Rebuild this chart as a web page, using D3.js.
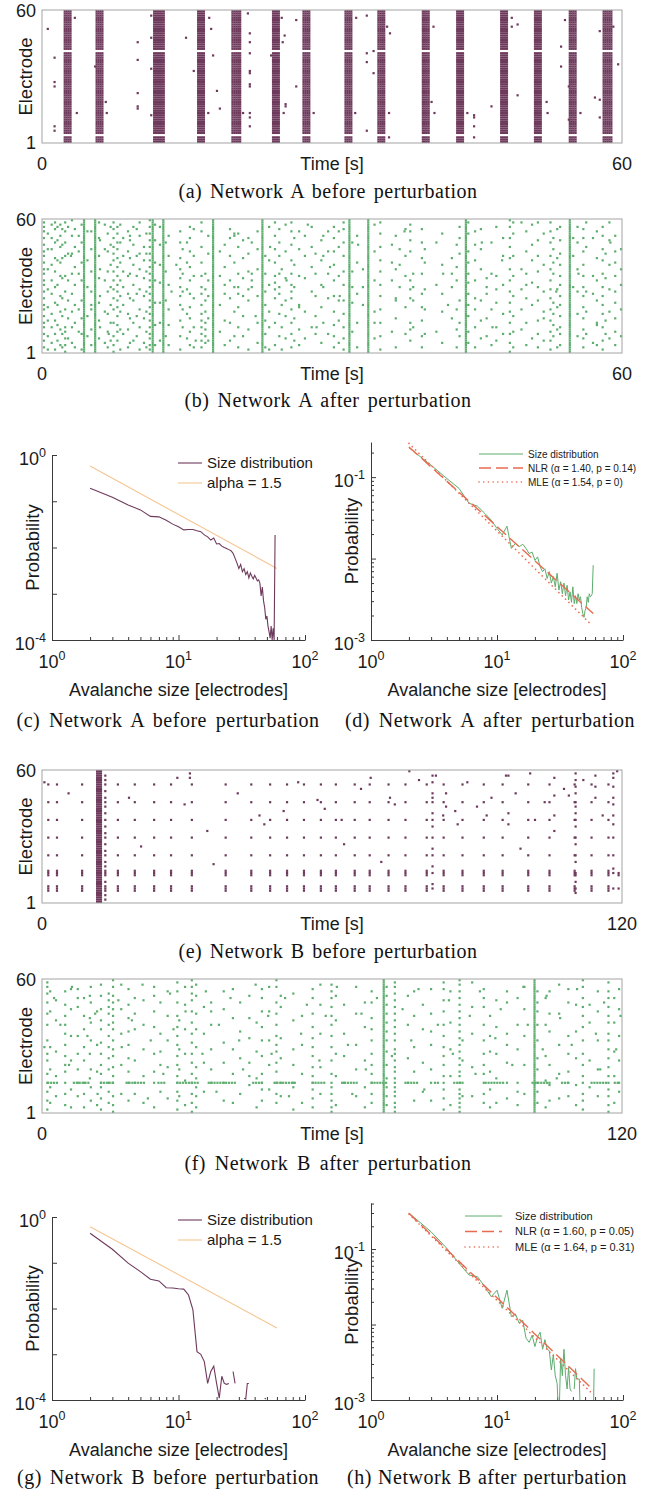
<!DOCTYPE html>
<html lang="en">
<head>
<meta charset="UTF-8">
<script src="https://cdnjs.cloudflare.com/ajax/libs/d3/7.8.5/d3.min.js"></script>
<title>Neuronal avalanches</title>
<style>
  body { margin: 0; background: #fff; }
  svg { display: block; }
  .lbl { font-family: "Liberation Sans", Arial, Helvetica, sans-serif; fill: #1a1a1a; }
  .cap { font-family: "Liberation Serif", "Times New Roman", serif; font-size: 20px; letter-spacing: 0.5px; fill: #111; }
</style>
</head>
<body>
<script>
/*---------------- data ----------------*/
// raster spec strings: electrode lists, "a-b" = every electrode from a to b

// (a) Network A before perturbation: population bursts [centre s, duration s]
const burstsA = [[2.7,0.7],[6.0,0.7],[12.1,1.0],[16.5,0.7],[20.1,0.8],[24.2,0.6],[27.4,0.7],[31.7,0.6],
  [35.1,0.6],[39.7,0.6],[43.3,0.7],[47.8,0.6],[51.3,0.6],[54.9,0.6],[58.5,0.8]];
const silentA = [4, 42];
const spikesA = [[0.6,52],[1.3,39],[1.3,28],[1.3,26],[1.3,8],[1.3,6],[3.4,57],[3.6,14],[5.5,35],[6.6,19],[6.7,14],
  [9.9,46],[9.9,38],[9.9,23],[9.9,17],[9.9,16],[11.3,58],[11.3,48],[11.3,34],[11.3,13],[14.9,48],[15.7,33],
  [17.3,57],[17.5,52],[17.7,40],[18.1,24],[17.2,14],[18.4,16],[21.3,59],[21.5,50],[21.5,46],[21.5,41],[21.5,33],
  [21.5,32],[21.5,27],[21.5,26],[21.5,14],[21.5,12],[21.5,8],[20.8,14],[23.7,40],[24.8,57],[25.1,49],[24.9,46],
  [25.2,18],[25.2,17],[25.0,14],[26.3,56],[26.3,26],[28.1,14],[32.5,57],[33.6,58],[33.6,41],[34.3,42],[33.6,37],
  [34.3,32],[33.6,6],[32.4,14],[35.7,53],[36.0,50],[35.9,14],[35.9,3],[40.5,53],[40.3,19],[40.6,14],[44.0,14],
  [44.7,13],[44.7,12],[44.7,8],[44.7,3],[46.5,17],[48.6,57],[48.6,53],[49.2,54],[49.2,22],[52.2,19],[52.3,14],
  [53.7,44],[53.7,35],[54.1,56],[54.5,26],[54.5,11],[55.7,14],[57.7,51],[57.2,21],[57.7,20],[57.7,12],[59.1,53],[59.6,36]];

// (b) Network A after perturbation: spike columns [time s, electrodes]
const columnsB = [
  [0.2,"3 6 9 12 14 17 20 22 25 28 31 33 36 38 41 44 46 49 52 55 57 59"],[1.0,"5 12 18 27 33 40 47 52 58"],
  [1.35,"2 9 15 23 30 37 43 50 56 59"],[1.9,"4 11 19 26 35 41 48 53 58"],[2.4,"1 4 7 10 12 20 28 35 44 50 55 59"],
  [2.7,"7 16 24 33 45 57"],[3.4,"3 14 22 31 39 48 56"],[3.8,"10 20 36 46 53"],[4.35,"1-60"],[4.7,"8 17 30 42 55"],
  [5.5,"1-60"],[6.0,"12 26 38 51"],[6.5,"5 19 33 47 58"],[7.4,"1 4 8 14 20 25 29 33 37 42 45 48 52 56 59"],
  [7.8,"6 10 13 17 21 24 28 31 35 39 43 47 50 54 57"],[8.4,"9 22 30 37 44 52"],[8.9,"3 11 18 27 35 46 55"],
  [9.45,"6 14 24 31 40 49 57"],[10.1,"2 12 20 29 38 45 53 59"],[10.55,"5 16 26 34 42 48"],[11.45,"1-60"],
  [11.7,"4 13 23 33 41 51 58"],[12.55,"1-60"],[12.8,"8 24 37 50"],[14.3,"2 8 15 22 26 30 34 38 43 50 55"],
  [14.55,"12 20 28 36 47"],[15.3,"4 10 16 21 27 33 39 46 52 57"],[16.5,"3 6 9 12 15 18 22 27 30 35 41 48 55 59"],
  [16.9,"5 8 11 14 19 24 29 36"],[17.7,"1-60"],[18.4,"10 22 35 46"],[19.45,"6 14 25 33 44 52 56"],
  [20.3,"3 12 21 27 30 36 48 54"],[20.8,"8 17 26 34 43 51"],[21.35,"2 11 24 29 37 45 52"],[21.7,"30 33 36 50"],
  [22.8,"1-60"],[23.1,"3 9 15 22 28 36 44"],[24.1,"4 14 25 29 32 35 41 47 53 59"],[24.55,"8 18 27 30 36 44 50 56"],
  [24.8,"2 12 22 38"],[25.8,"3 9 14 20 25 28 31 36 42 49 55 59"],[26.1,"6 16 30 40 52"],[27.2,"7 19 34 44 53"],
  [27.9,"12 28 39 48 57"],[28.9,"5 21 31 42 51"],[29.6,"9 25 36 46 55"],[29.1,"14 30 44 53"],
  [30.2,"3 8 13 19 26 33 40 46 52 57"],[31.2,"2 7 12 18 24 31 37 44 50 56 59"],[31.8,"1-60"],[32.1,"10 23 30 37 50"],
  [33.2,"22 30 38"],[33.75,"1-60"],[35.0,"2 8 14 20 26 31 37 42 48 54 59"],[36.2,"10 33 41 49"],[37.0,"30 40 47"],
  [38.1,"6 11 14 25 29 33 46 51 55 58"],[38.4,"12 24 30 36"],[39.3,"3 8 15 21 27 36 43 50 56"],[39.6,"9 20 29 41 47"],
  [40.8,"10 31 50"],[42.4,"16 30 36 43"],[43.2,"8 14 24 45 52 57"],[43.85,"1-60"],
  [44.1,"5 10 17 22 27 32 36 41 46 54 59"],[44.8,"3 12 20 25 33 42 49 55"],[46.0,"8 16 27 30 34"],
  [47.0,"6 12 23 29 35 57"],[48.4,"1 5 9 14 19 23 28 33 38 43 48 52 57 60"],[48.75,"3 10 17 26 35 44 54 59"],
  [49.6,"11 20 29 38 59"],[50.7,"7 22 32 42 49 58"],[51.3,"3 9 15 24 30 37 44 51 59"],
  [52.6,"2 6 10 15 20 25 29 33 38 44 50 55 59"],[52.9,"8 13 18 23 36 41 47 52"],
  [53.6,"4 9 12 17 22 26 31 35 40 45 51 57"],[54.6,"1-60"],[54.95,"30 44 52"],
  [56.0,"3 7 11 16 21 26 30 35 40 46 52 56"],[56.3,"9 19 28 48 59"],[57.0,"5 27 35 52"],
  [58.0,"2 6 12 18 22 26 30 36 42 47 53 57"],[58.3,"9 15 34 45"],[59.3,"4 10 16 23 28 35 41 46 53"],[59.9,"8 20 31 38 47"],
  [0.6,"2 8 15 21 29 38 47 54"],[1.6,"6 13 22 31 42 51 57"],[2.1,"3 9 17 25 34 43 49 56"],[3.1,"5 12 19 27 36 45 53 60"],
  [4.1,"2 9 16 24 33 41 50 58"],[5.1,"4 11 20 28 37 47 55"],[5.9,"7 15 23 34 44 52 59"],[6.8,"3 10 18 28 37 46 54"],
  [7.1,"6 14 22 30 40 49 57"],[8.1,"2 11 19 26 33 41 50 58"],[9.1,"5 16 25 36 43 53"],[9.8,"8 17 27 35 44 56"],
  [10.8,"3 10 19 28 37 45 54"],[11.15,"2 4 7 9 12 15 18 21 24 27 30 33 36 39 42 45 48 51 54 57 60"],
  [12.2,"6 14 23 32 40 49 57"],[13.1,"4 13 20 31 44 53"],[15.0,"7 18 29 41 50"],[15.7,"3 12 25 35 44 56"],
  [17.2,"6 16 26 33 45 53"],[18.9,"4 15 27 39 49"],[19.9,"8 19 30 41 53"],[22.3,"5 14 26 38 47 55"],
  [23.5,"2 12 19 31 42 57"],[25.2,"7 17 24 34 46 58"],[26.6,"4 11 22 35 47 55"],[28.3,"9 17 26 36 45"],
  [30.7,"5 15 24 35 48 55"],[32.6,"3 14 27 41 53"],[34.4,"7 19 33 46 58"],[36.6,"3 16 25 38 53"],
  [37.6,"9 21 35 44 56"],[41.4,"5 19 27 40 54"],[42.9,"3 11 20 33 39 49"],[45.4,"7 15 24 38 47 56"],
  [46.5,"4 20 36 50"],[47.7,"9 18 31 44 52"],[50.1,"4 14 25 36 46 55"],[51.9,"6 19 28 40 54"],
  [53.3,"3 11 21 29 43 56"],[55.4,"8 18 28 38 50 57"],[57.4,"4 14 24 33 43 55"],[58.7,"7 19 29 40 51 59"]];
const spikesB = [[3.0,44],[5.1,22],[6.9,9],[9.1,51],[13.4,28],[13.9,40],[15.9,6],[18.9,31],[19.9,54],[22.1,17],
  [23.6,48],[25.3,33],[26.6,21],[27.5,58],[28.4,12],[29.8,39],[30.8,26],[32.7,49],[34.4,14],[36.6,24],[37.5,55],
  [41.5,36],[42.0,22],[45.5,50],[46.6,12],[47.6,42],[50.1,31],[51.9,16],[53.2,28],[55.5,36],[57.4,13],[58.8,50]];

// (e) Network B before perturbation: recurring events on a fixed set of electrodes
const eventsE = [1.3,3.1,8.3,15.7,19.2,23.2,26.7,31.0,38.0,43.3,47.2,50.7,54.2,57.7,60.8,64.7,67.8,71.7,75.2,
  79.6,83.1,87.0,91.4,95.3,100.6,105.0,110.2,113.7,117.2];
const channelsE = [54, 46, 38, 30, 22, 15, 14, 13, 8, 7, 6];
const burstsE = [[11.9, 1.0]];
const columnsE = [[13.1,"2 4 6-8 10 13-15 17 19 22 24 27 30 32 35 38 41 44 46 48 51 54 56 58"],[30.6,"57 59"],
  [80.8,"7 9 14 17 22 25 30 35 38 41 46 48 50 55 58"],[83.6,"44 50"],[96.5,"36 41 58"],[106.0,"40 49 57"],
  [110.4,"5 7 10 13 14 19 22 27 30 35 38 41 44 46 50 53 56 59"],[114.5,"48 53 58"],
  [118.2,"7 14 16 22 30 36 40 45 48 53 57 59"],[119.3,"7 13 14"]];
const spikesE = [[0.5,55],[5.5,50],[18,48],[28,57],[29.5,45],[34.2,33],[40.5,50],[45,40],[46,36],[50,42],[53,55],
  [57,47],[58.5,43],[62,38],[66,52],[68,57],[72,48],[73,45],[76,60],[78,56],[81.5,58],[83,40],[85.5,42],[86,36],
  [88,55],[90,44],[93,48],[96,58],[98,50],[102,38],[104,46],[106,33],[108,52],[109,49],[112,56],[116,40],[119,60],
  [101,59],[92,40],[20.5,26],[35.5,18],[62.5,27],[70.2,19],[99.0,25]];

// (f) Network B after perturbation
const columnsF = [
  [1.1,"2 6 10 14 18 24 27 33 40 45 50 54 57 59"],[1.7,"5 12 20 30 46 55"],[4.8,"4 9 14 19 22 26 31 36 40 44 49 55"],
  [7.4,"8 14 20 27 35 48 52 56"],[8.7,"3 9 14 24 30 38 44 52"],[10.1,"6 12 20 33 41 50 57"],
  [12.2,"2 7 12 14 18 22 27 32 38 42 47 53 58"],[13.8,"5 10 14 20 25 30 35 40 45 48 51 54"],
  [14.7,"1 4 8 14 17 21 26 29 33 38 41 44 47 50 53 57 60"],[17.9,"6 14 19 25 31 37 43 49 56"],
  [19.2,"9 14 24 38 45 52"],[23.2,"3 14 19 27 39 46 53 57"],[24.5,"10 22 28 36 50"],
  [28.0,"2 6 10 14 17 22 26 31 35 39 44 50 55 59"],[28.4,"8 20 29 42"],
  [31.0,"1 5 9 14 18 23 27 32 36 41 46 51 54 57 60"],[31.9,"3 8 12 16 21 30 38 45 53 58"],
  [35.0,"14 20 29 40 46 50"],[37.6,"6 14 23 32 47 55"],[42.9,"13 17 23 34 43 53"],
  [45.5,"6 11 14 18 26 33 39 46 52 56"],[48.5,"5 9 14 19 23 28 31 35 40 45 50 57 60"],[49.4,"8 14 25 34 48 53"],
  [52.0,"2 12 14 22 29 42 54"],[56.0,"3 7 11 14 17 21 26 30 34 39 45 52 56"],
  [59.9,"1 3 6 9 12 14 18 24 30 35 40 44 48 52 55 58"],[62.5,"14 26 36 49"],[68.2,"5 9 14 18 22 27 33 38 43 50 55"],
  [70.7,"1-60"],[71.3,"4 8 12 16 22 28 33 37 41 45 49 53 57"],
  [73.0,"1 3 5 8 10 12 14 16 19 21 24 27 29 33 36 39 42 45 48 51 54 57 59"],[75.7,"14 25 40 53"],
  [80.5,"6 14 20 31 37 45 56"],[83.1,"2 7 11 14 17 22 26 30 35 40 46 51 56 59"],
  [86.4,"1 3 5 7 9 11 14 17 19 22 25 28 31 34 37 40 43 46 49 52 55 58 60"],[87.0,"8 14 24 33"],
  [91.4,"5 9 14 18 22 27 33 40 48 52 56"],[92.7,"3 11 19 28 35 44"],[96.2,"7 14 23 31 36 50 55"],
  [98.4,"4 10 14 29 40 52"],[101.9,"1-60"],[102.5,"5 10 14 20 25 33 40 46 50 55"],[105.0,"6 13 14 22 37 45 55"],
  [108.9,"8 14 19 27 35 50 56"],[111.9,"2 6 9 14 17 22 27 33 39 44 48 52 57 60"],[113.3,"12 24 41 49"],
  [117.2,"1 4 8 11 14 17 21 25 29 33 36 41 44 48 52 55 59"],[119.4,"10 14 24 35 47 56"],
  [2.9,"8 17 28 42 51"],[6.0,"3 11 24 35 47 56"],[9.9,"16 27 43 53"],[11.4,"4 19 31 46"],[16.4,"9 22 36 47 58"],
  [21.0,"5 17 29 40 51"],[26.0,"7 21 33 44 55"],[29.6,"4 15 27 38 49 57"],[33.5,"10 23 36 48"],
  [39.5,"5 18 29 43 56"],[41.0,"9 25 37 50"],[44.4,"3 16 28 41"],[47.0,"11 22 33 46 57"],[53.8,"5 18 31 44"],
  [57.6,"9 21 36 49 58"],[60.8,"4 17 27 42 53"],[65.0,"8 20 31 45 57"],[66.8,"3 12 24 39 50"],
  [77.0,"6 19 30 44 55"],[78.8,"10 23 38 49"],[84.5,"4 17 29 41 55"],[89.0,"8 21 36 48 59"],
  [94.0,"5 16 27 39 51"],[99.8,"9 22 35 47 57"],[104.2,"3 15 26 40 52"],[107.0,"7 18 31 45 58"],
  [110.5,"4 13 25 37 49"],[115.0,"8 20 33 46 55"],[118.4,"5 17 28 41 52"]];
// stretches of repeated firing on electrode 14 [from s, to s]
const row14F = [[1.3,3.5],[6.6,10.1],[12.2,14.9],[17.5,21.4],[24.1,25.8],[28.0,32.4],[34.5,40.2],[43.7,45.5],
  [48.1,52.5],[56.0,58.6],[62.1,65.6],[68.2,71.3],[75.2,77.8],[81.3,82.2],[85.3,86.6],[91.8,95.8],[101.5,105.0],
  [107.6,109.3],[113.7,117.2],[118.5,119.4]];
const spikesF = [[0.5,30],[2.5,52],[3.8,40],[5.6,22],[6.2,57],[9.4,35],[11.0,45],[11.5,9],[15.8,51],[16.5,30],
  [18.6,42],[20.8,58],[21.9,7],[22.5,33],[25.1,18],[26.5,54],[27.2,38],[29.7,46],[33.2,27],[33.9,55],[36.1,10],
  [36.6,40],[39.0,52],[40.8,33],[41.6,20],[44.2,58],[46.8,44],[47.5,27],[50.3,52],[51.1,8],[53.6,36],[54.8,49],
  [57.4,24],[58.7,44],[61.0,57],[63.3,31],[64.2,9],[66.1,45],[67.0,20],[69.3,52],[72.4,26],[74.6,47],[76.4,33],
  [77.9,56],[79.1,11],[81.9,40],[84.2,51],[85.0,27],[88.5,44],[89.7,18],[90.6,55],[93.8,34],[94.9,47],[97.3,22],
  [99.6,57],[100.5,40],[103.6,29],[104.4,53],[106.5,16],[107.2,43],[109.6,31],[110.7,56],[114.6,36],[115.5,20],
  [116.3,50],[118.8,29],[119.7,44]];

// avalanche size distributions, sizes 2..60 electrodes (null = no avalanche of that size)
const sizes = [2,3,4,5,6,7,8,9,10,11,12,13,14,15,16,17,18,19,20,21,22,23,24,25,26,27,28,29,30,31,
  32,33,34,35,36,37,38,39,40,41,42,43,44,45,46,47,48,49,50,51,52,53,54,55,56,57,58,59,60];
const probC = [0.19,0.122,0.083,0.065,0.047,0.046,0.039,0.032,0.028,0.024,0.0245,0.0245,0.023,0.022,0.0187,0.017,
  0.0145,0.016,0.0119,0.0122,0.0107,0.010,0.0095,0.009,0.0085,0.0075,0.0059,0.0046,0.0035,0.0043,0.003,0.0035,
  0.0026,0.003,0.0022,0.0028,0.0024,0.0021,0.0025,0.0022,0.0019,0.002,0.0017,0.0009,0.0014,0.0007,0.0005,
  0.00028,0.00033,0.0002,0.00015,0.00011,0.0002,0.0001,0.00018,0.0001,0.0186,null,null];
const probD = [0.23,0.14,0.096,0.0726,0.0478,0.044,0.0359,0.0296,0.0234,0.0195,0.025,0.0133,0.0154,0.014,0.015,
  0.0133,0.0115,0.012,0.0095,0.0105,0.0079,0.0069,0.0075,0.0057,0.0069,0.005,0.006,0.0045,0.0066,0.0041,0.0052,
  0.0037,0.005,0.0035,0.0047,0.0031,0.0039,0.0029,0.0045,0.0028,0.0035,0.0028,0.0037,0.0031,0.0034,0.0025,
  0.0021,0.0019,0.0023,0.0025,0.0034,0.0029,0.0037,0.0034,0.0035,0.0037,0.0083,null,null];
const probG = [0.44,0.197,0.098,0.064,0.0435,0.040,0.0285,0.028,0.027,0.0265,0.0197,0.0093,0.00114,0.001,
  0.00069,0.00023,0.00042,0.00055,0.00023,0.00011,0.00033,0.00023,0.00022,0.00023,null,0.00042,0.00023,null,
  null,null,null,0.00011,0.000105,0.00023,0.00023,null,null,null,null,null,null,null,null,null,null,null,
  0.00011,0.000105,null,null,null,null,null,null,null,null,null,null,null];
const probH = [0.30,0.169,0.102,0.0646,0.0453,0.043,0.0317,0.0233,0.0285,0.0164,0.0285,0.0127,0.0138,0.0104,
  0.0114,0.0066,0.0058,0.0072,0.0051,0.0069,0.0079,0.0047,0.0063,0.0047,0.0045,0.0025,0.004,0.0021,0.00166,
  0.0005,0.0036,0.0021,0.0047,0.0021,0.0014,0.0027,0.0014,0.0013,null,0.0014,0.0026,0.0019,0.0019,0.0019,
  0.0005,null,null,null,null,null,null,null,null,null,null,null,0.0004,0.0026,null];
// reference / fitted power laws, end points [size, probability]
const alphaC = [[2,0.578],[60,0.00352]];
const alphaG = [[2,0.615],[60,0.00374]];
const nlrD = [[2,0.235],[58,0.00211]], mleD = [[2,0.26],[56,0.00154]];
const nlrH = [[2,0.297],[58,0.00136]], mleH = [[2,0.29],[56,0.00125]];

/*---------------- drawing ----------------*/
const purple = "#6e3a5c", green = "#5dad6e", orange = "#f5c692", red = "#ea6a4f", axisCol = "#3a3a3a";
const svg = d3.select("body").append("svg").attr("width", 657).attr("height", 1495);

function parseList(s) {
  const out = [];
  s.split(" ").forEach(tok => {
    if (tok.includes("-")) {
      const [a, b] = tok.split("-").map(Number);
      for (let e = a; e <= b; e++) out.push(e);
    } else out.push(+tok);
  });
  return out;
}

function caption(txt, cx, y, target) {
  const t = svg.append("text").attr("class", "cap").attr("x", cx).attr("y", y)
    .attr("text-anchor", "middle").text(txt);
  const natural = t.node().getComputedTextLength();
  const nSp = txt.split(" ").length - 1;
  t.style("word-spacing", Math.max(0, (target - natural) / nSp) + "px");
}

function raster(o) {
  const x = d3.scaleLinear().domain([0, o.tMax]).range([o.left, o.right]);
  const y = d3.scaleLinear().domain([1, 60]).range([o.bottom - 1.2, o.top + 1.2]);
  const pts = [];
  (o.bursts || []).forEach(([tc, w]) => {
    for (let e = 1; e <= 60; e++) {
      if ((o.silent || []).includes(e)) continue;
      for (let t = tc - w / 2; t <= tc + w / 2 + 1e-9; t += o.step) pts.push([t, e]);
    }
  });
  (o.columns || []).forEach(([t, s]) => parseList(s).forEach(e => pts.push([t, e])));
  (o.events || []).forEach(t => o.channels.forEach(e => pts.push([t, e])));
  (o.rows || []).forEach(([t0, t1]) => {
    for (let t = t0; t <= t1 + 1e-9; t += o.rowStep) pts.push([t, o.rowElectrode]);
  });
  (o.spikes || []).forEach(d => pts.push(d));

  const g = svg.append("g");
  const sz = 2.2;
  g.selectAll("rect").data(pts).join("rect")
    .attr("x", d => x(d[0]) - sz / 2).attr("y", d => y(d[1]) - sz / 2)
    .attr("width", sz).attr("height", sz).attr("fill", o.color);

  g.append("rect").attr("x", o.left).attr("y", o.top).attr("width", o.right - o.left)
    .attr("height", o.bottom - o.top).attr("fill", "none").attr("stroke", "#a3a3a3").attr("stroke-width", 1);

  const lab = (txt, xx, yy, anchor) => g.append("text").attr("class", "lbl").attr("x", xx).attr("y", yy)
    .attr("text-anchor", anchor).attr("font-size", 18).text(txt);
  lab("60", o.left - 6, o.top + 7, "end");
  lab("1", o.left - 6, o.bottom + 6, "end");
  lab("0", x(0), o.bottom + 27, "middle");
  lab(String(o.tMax), x(o.tMax), o.bottom + 27, "middle");
  lab("Time [s]", (o.left + o.right) / 2, o.bottom + 27, "middle");
  g.append("text").attr("class", "lbl").attr("font-size", 18.5).attr("text-anchor", "middle")
    .attr("transform", `translate(${o.left - 10},${(o.top + o.bottom) / 2}) rotate(-90)`).text("Electrode");
}

function supLabel(g, xx, yy, exp, anchor) {
  const t = g.append("text").attr("class", "lbl").attr("x", xx).attr("y", yy)
    .attr("text-anchor", anchor).attr("font-size", 18);
  t.append("tspan").text("10");
  t.append("tspan").attr("dy", -8).attr("font-size", 12.5).text(exp);
}

function logPlot(o) {
  const x = d3.scaleLog().domain([1, 100]).range([o.left, o.right]);
  const y = d3.scaleLog().domain(o.yDomain).range([o.bottom, o.top]);
  const g = svg.append("g");
  const clipId = "clip" + o.id;
  g.append("clipPath").attr("id", clipId).append("rect")
    .attr("x", o.left).attr("y", o.top - 2).attr("width", o.right - o.left).attr("height", o.bottom - o.top + 2);

  const xMajor = [1, 10, 100];
  const xMinor = [2,3,4,5,6,7,8,9,20,30,40,50,60,70,80,90];
  g.append("g").attr("transform", `translate(0,${o.bottom})`).attr("color", axisCol)
    .call(d3.axisBottom(x).tickValues(xMajor).tickSize(-5).tickSizeOuter(0).tickFormat(""));
  g.append("g").attr("transform", `translate(0,${o.bottom})`).attr("color", axisCol)
    .call(d3.axisBottom(x).tickValues(xMinor).tickSize(-3).tickSizeOuter(0).tickFormat(""))
    .call(a => a.select(".domain").remove());
  g.append("g").attr("transform", `translate(${o.left},0)`).attr("color", axisCol)
    .call(d3.axisLeft(y).tickValues(o.yMajor).tickSize(-5).tickSizeOuter(0).tickFormat(""));
  if (o.yMinor) g.append("g").attr("transform", `translate(${o.left},0)`).attr("color", axisCol)
    .call(d3.axisLeft(y).tickValues(o.yMinor).tickSize(-3).tickSizeOuter(0).tickFormat(""))
    .call(a => a.select(".domain").remove());

  xMajor.forEach((v, i) => supLabel(g, x(v), o.bottom + 28, String(i), "middle"));
  o.yLabels.forEach(([v, e]) => supLabel(g, o.left - 6, y(v) + 10, e, "end"));

  g.append("text").attr("class", "lbl").attr("font-size", 18).attr("text-anchor", "middle")
    .attr("x", (o.left + o.right) / 2).attr("y", o.bottom + 56).text("Avalanche size [electrodes]");
  g.append("text").attr("class", "lbl").attr("font-size", 18.5).attr("text-anchor", "middle")
    .attr("transform", `translate(${o.left - 13},${(o.top + o.bottom) / 2}) rotate(-90)`).text("Probability");

  const line = d3.line().defined(d => d[1] != null).x(d => x(d[0])).y(d => y(d[1]));
  const plot = g.append("g").attr("clip-path", `url(#${clipId})`);
  o.series.forEach(s => {
    plot.append("path").attr("d", line(s.data)).attr("fill", "none").attr("stroke", s.color)
      .attr("stroke-width", s.width).attr("stroke-dasharray", s.dash || null)
      .attr("stroke-linecap", s.cap || "butt");
  });

  // legend
  const L = o.legend;
  o.series.slice().sort((a, b) => a.order - b.order).forEach((s, i) => {
    const yy = L.y + i * L.dy;
    g.append("line").attr("x1", L.x1).attr("x2", L.x2).attr("y1", yy).attr("y2", yy)
      .attr("stroke", s.color).attr("stroke-width", s.width).attr("stroke-dasharray", s.dash || null)
      .attr("stroke-linecap", s.cap || "butt");
    g.append("text").attr("class", "lbl").attr("font-size", L.size).attr("x", L.tx).attr("y", yy + L.size * 0.36)
      .text(s.name);
  });
}

const zipSize = p => sizes.map((s, i) => [s, i < p.length ? p[i] : null]);

// (a)
raster({left: 42, right: 622, top: 10, bottom: 143, tMax: 60, color: purple, step: 0.2,
  bursts: burstsA, silent: silentA, spikes: spikesA});
caption("(a) Network A before perturbation", 328, 198, 299);
// (b)
raster({left: 42, right: 622, top: 219, bottom: 353, tMax: 60, color: green, step: 0.2,
  columns: columnsB, spikes: spikesB});
caption("(b) Network A after perturbation", 328, 407, 287);

// (c)
logPlot({id: "c", left: 52, right: 305, top: 455, bottom: 640, yDomain: [1e-4, 1],
  yMajor: [1e-4, 1e-3, 1e-2, 1e-1, 1], yLabels: [[1, "0"], [1e-4, "-4"]],
  series: [
    {name: "alpha = 1.5", data: alphaC, color: orange, width: 1.1, order: 1},
    {name: "Size distribution", data: zipSize(probC), color: purple, width: 1.1, order: 0}],
  legend: {x1: 178, x2: 202, tx: 207, y: 463, dy: 20, size: 15}});
caption("(c) Network A before perturbation", 168, 727, 303);

// (d)
logPlot({id: "d", left: 371, right: 623, top: 442, bottom: 640, yDomain: [1e-3, 0.27],
  yMajor: [1e-3, 1e-2, 1e-1],
  yMinor: [2e-3,3e-3,4e-3,5e-3,6e-3,7e-3,8e-3,9e-3,2e-2,3e-2,4e-2,5e-2,6e-2,7e-2,8e-2,9e-2,2e-1],
  yLabels: [[1e-1, "-1"], [1e-3, "-3"]],
  series: [
    {name: "Size distribution", data: zipSize(probD), color: green, width: 1, order: 0},
    {name: "NLR (\u03b1 = 1.40, p = 0.14)", data: nlrD, color: red, width: 1.4, dash: "12,5", order: 1},
    {name: "MLE (\u03b1 = 1.54, p = 0)", data: mleD, color: red, width: 1.6, dash: "0.1,4.6", cap: "round", order: 2}],
  legend: {x1: 479, x2: 523, tx: 528, y: 454, dy: 14, size: 10}});
caption("(d) Network A after perturbation", 490, 727, 290);

// (e)
raster({left: 42, right: 622, top: 770, bottom: 903, tMax: 120, color: purple, step: 0.4,
  bursts: burstsE, events: eventsE, channels: channelsE, columns: columnsE, spikes: spikesE});
caption("(e) Network B before perturbation", 328, 958, 299);
// (f)
raster({left: 42, right: 622, top: 979, bottom: 1113, tMax: 120, color: green, step: 0.4,
  columns: columnsF, rows: row14F, rowElectrode: 14, rowStep: 0.6, spikes: spikesF});
caption("(f) Network B after perturbation", 328, 1170, 287);

// (g)
logPlot({id: "g", left: 52, right: 305, top: 1217, bottom: 1400, yDomain: [1e-4, 1],
  yMajor: [1e-4, 1e-3, 1e-2, 1e-1, 1], yLabels: [[1, "0"], [1e-4, "-4"]],
  series: [
    {name: "alpha = 1.5", data: alphaG, color: orange, width: 1.1, order: 1},
    {name: "Size distribution", data: zipSize(probG), color: purple, width: 1.1, order: 0}],
  legend: {x1: 178, x2: 202, tx: 207, y: 1220, dy: 20, size: 15}});
caption("(g) Network B before perturbation", 168, 1484, 302);

// (h)
logPlot({id: "h", left: 371, right: 623, top: 1203, bottom: 1400, yDomain: [1e-3, 0.407],
  yMajor: [1e-3, 1e-2, 1e-1],
  yMinor: [2e-3,3e-3,4e-3,5e-3,6e-3,7e-3,8e-3,9e-3,2e-2,3e-2,4e-2,5e-2,6e-2,7e-2,8e-2,9e-2,2e-1,3e-1,4e-1],
  yLabels: [[1e-1, "-1"], [1e-3, "-3"]],
  series: [
    {name: "Size distribution", data: zipSize(probH), color: green, width: 1, order: 0},
    {name: "NLR (\u03b1 = 1.60, p = 0.05)", data: nlrH, color: red, width: 1.4, dash: "12,5", order: 1},
    {name: "MLE (\u03b1 = 1.64, p = 0.31)", data: mleH, color: red, width: 1.6, dash: "0.1,4.6", cap: "round", order: 2}],
  legend: {x1: 465, x2: 502, tx: 515, y: 1216, dy: 15.5, size: 11}});
caption("(h) Network B after perturbation", 487, 1484, 280);
</script>
</body>
</html>
